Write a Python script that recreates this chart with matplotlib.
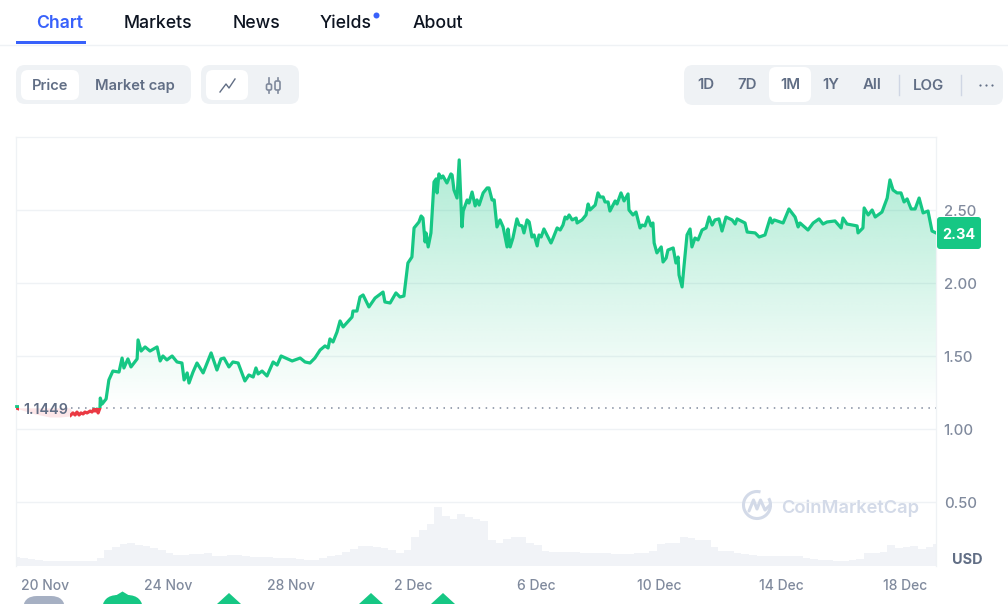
import numpy as np
import matplotlib
matplotlib.use("Agg")
import matplotlib.pyplot as plt
from matplotlib.patches import FancyBboxPatch, Rectangle, Polygon, Circle, Arc
from matplotlib.transforms import ScaledTranslation

plt.rcParams['font.family'] = ['Inter', 'DejaVu Sans']

# ---------- data ----------
days = [-0.94,-0.65,-0.33,0.16,0.49,0.81,0.91,0.98,1.04,1.11,1.17,1.24,1.30,1.37,1.47,1.53,1.60,1.63,1.69,1.73,1.79,1.80,1.86,1.99,2.08,2.21,2.41,2.51,2.57,2.70,2.80,3.00,3.03,3.13,3.26,3.42,3.65,3.75,3.84,3.97,4.14,4.30,4.46,4.53,4.63,4.69,4.82,4.95,5.15,5.41,5.60,5.73,5.83,5.99,6.12,6.29,6.51,6.64,6.78,6.87,6.94,7.07,7.23,7.43,7.56,7.69,8.05,8.31,8.47,8.63,8.79,8.96,9.12,9.22,9.28,9.38,9.51,9.61,9.71,10.00,10.03,10.16,10.26,10.36,10.55,10.75,11.01,11.07,11.24,11.43,11.56,11.69,11.82,11.95,12.02,12.18,12.25,12.31,12.38,12.41,12.48,12.57,12.67,12.74,12.77,12.83,12.90,12.96,13.09,13.22,13.26,13.32,13.42,13.49,13.58,13.62,13.75,13.81,13.91,14.01,14.07,14.14,14.27,14.40,14.46,14.56,14.63,14.72,14.82,14.92,15.05,15.08,15.15,15.24,15.37,15.44,15.54,15.60,15.70,15.77,15.86,15.93,16.03,16.09,16.16,16.25,16.48,16.55,16.68,16.78,16.87,16.94,17.00,17.07,17.17,17.30,17.33,17.49,17.62,17.69,17.75,17.92,18.01,18.08,18.18,18.24,18.34,18.40,18.57,18.63,18.76,18.86,18.99,19.02,19.15,19.25,19.38,19.45,19.54,19.64,19.74,19.80,19.84,19.93,20.07,20.13,20.23,20.29,20.46,20.55,20.62,20.65,20.75,20.81,20.91,21.01,21.07,21.17,21.27,21.40,21.53,21.63,21.73,21.82,21.95,22.05,22.18,22.38,22.48,22.54,22.80,22.87,23.13,23.26,23.45,23.62,23.68,23.75,24.04,24.23,24.43,24.53,24.59,24.85,25.02,25.21,25.34,25.47,25.73,25.93,25.99,26.12,26.45,26.48,26.64,26.68,26.81,26.94,27.04,27.26,27.43,27.52,27.62,27.75,27.88,27.98,28.08,28.21,28.34,28.47,28.60,28.76,28.89,29.02]
price = [1.144,1.123,1.103,1.082,1.082,1.089,1.110,1.096,1.116,1.096,1.110,1.103,1.116,1.110,1.123,1.116,1.137,1.123,1.137,1.110,1.144,1.212,1.171,1.206,1.336,1.397,1.390,1.486,1.418,1.480,1.425,1.480,1.610,1.534,1.562,1.534,1.562,1.466,1.500,1.473,1.500,1.459,1.452,1.336,1.384,1.315,1.390,1.452,1.384,1.521,1.404,1.480,1.486,1.425,1.459,1.452,1.329,1.370,1.356,1.418,1.377,1.397,1.363,1.459,1.438,1.500,1.466,1.486,1.459,1.452,1.486,1.541,1.569,1.555,1.617,1.596,1.664,1.740,1.699,1.767,1.808,1.808,1.904,1.918,1.836,1.897,1.938,1.870,1.863,1.932,1.904,1.911,2.137,2.178,2.377,2.418,2.459,2.445,2.281,2.343,2.247,2.343,2.692,2.713,2.617,2.747,2.719,2.733,2.685,2.747,2.740,2.637,2.582,2.843,2.384,2.493,2.569,2.548,2.623,2.528,2.569,2.534,2.617,2.651,2.651,2.569,2.569,2.384,2.432,2.384,2.247,2.370,2.247,2.308,2.439,2.397,2.391,2.343,2.432,2.418,2.315,2.329,2.254,2.329,2.315,2.370,2.274,2.308,2.377,2.363,2.397,2.452,2.439,2.466,2.432,2.445,2.411,2.432,2.466,2.541,2.500,2.534,2.617,2.589,2.589,2.555,2.555,2.493,2.562,2.541,2.617,2.562,2.610,2.500,2.466,2.486,2.377,2.397,2.391,2.452,2.391,2.411,2.274,2.206,2.247,2.144,2.171,2.226,2.240,2.137,2.178,2.055,1.973,2.110,2.329,2.370,2.247,2.308,2.295,2.363,2.377,2.452,2.397,2.432,2.439,2.356,2.452,2.432,2.404,2.439,2.411,2.349,2.343,2.315,2.329,2.445,2.411,2.432,2.411,2.507,2.452,2.384,2.411,2.363,2.411,2.439,2.404,2.418,2.425,2.377,2.445,2.404,2.391,2.343,2.377,2.514,2.466,2.500,2.452,2.486,2.582,2.706,2.637,2.617,2.617,2.555,2.576,2.507,2.507,2.582,2.480,2.493,2.356,2.343]
volume = [9,8,7,6,5,5,5,5,5,5,5,8,16,19,22,23,21,20,18,16,13,11,11,12,12,13,10,10,11,11,10,9,9,9,8,8,8,7,6,6,8,10,11,14,17,20,20,19,18,16,13,16,29,36,42,59,50,47,52,49,47,45,26,23,27,29,29,23,21,15,14,14,14,14,13,13,13,13,12,12,12,13,13,15,22,23,23,29,28,26,26,19,15,15,13,12,11,10,10,10,10,10,10,8,7,6,6,5,5,6,7,13,13,14,21,18,19,20,17,19,22]
tick_days = [0, 4, 8, 12, 16, 20, 24, 28]
tick_labels = ['20 Nov', '24 Nov', '28 Nov', '2 Dec', '6 Dec', '10 Dec', '14 Dec', '18 Dec']
y_ticks = [0.5, 1.0, 1.5, 2.0, 2.5]
baseline = 1.1449
last_price = '2.34'
nav_tabs = ['Chart', 'Markets', 'News', 'Yields', 'About']
ranges = ['1D', '7D', '1M', '1Y', 'All']

GREEN = '#16C784'; RED = '#EA3943'; BLUE = '#3861FB'
PALE = '#EFF2F5'; GREY = '#808A9D'; SLATE = '#616E85'; DARK = '#0D1421'

W, H = 1008, 604
fig = plt.figure(figsize=(W/100, H/100), dpi=100, facecolor='white')
rect = [16/W, (H-566)/H, 920/W, 429/H]
xlim = (-0.945, 29.02)

# ---------- volume ----------
axv = fig.add_axes(rect, zorder=0)
axv.bar(-0.945 + 0.25*np.arange(len(volume)), volume, width=0.25, color='#F1F3F7', linewidth=0)
axv.set_xlim(*xlim); axv.set_ylim(0, 429); axv.axis('off')

# ---------- price ----------
ax = fig.add_axes(rect, zorder=1)
ax.patch.set_alpha(0)
ax.set_xlim(*xlim); ax.set_ylim(0.0616, 3.0)
d = np.array(days); p = np.array(price)

for s in ['left', 'top', 'right']:
    ax.spines[s].set_color(PALE); ax.spines[s].set_linewidth(0.9)
ax.spines['bottom'].set_visible(False)
ax.grid(False)
for v in y_ticks:
    ax.axhline(v, color=PALE, lw=1, zorder=1)

# gradient fill above the baseline
grad = np.zeros((256, 2, 4))
grad[..., :3] = matplotlib.colors.to_rgb(GREEN)
grad[..., 3] = np.linspace(0.34, 0.0, 256)[:, None]
top = p.max()
im = ax.imshow(grad, extent=(xlim[0], xlim[1], baseline, top), aspect='auto', zorder=2, interpolation='bilinear')
ax.set_xlim(*xlim); ax.set_ylim(0.0616, 3.0)
poly = Polygon(np.vstack([[d[0], baseline], np.column_stack([d, p]), [d[-1], baseline]]),
               closed=True, transform=ax.transData, fc='none', ec='none')
ax.add_patch(poly)
im.set_clip_path(poly)

clip_up = Rectangle((xlim[0], baseline), xlim[1]-xlim[0], 3, transform=ax.transData)
clip_dn = Rectangle((xlim[0], 0), xlim[1]-xlim[0], baseline, transform=ax.transData)
l1, = ax.plot(d, p, color=GREEN, lw=2.3, zorder=4, solid_joinstyle='round')
l1.set_clip_path(clip_up)
l2, = ax.plot(d, p, color=RED, lw=2.3, zorder=4, solid_joinstyle='round')
l2.set_clip_path(clip_dn)
ax.plot([xlim[0], xlim[0]+0.12], [baseline+0.01, baseline+0.01], color=GREEN, lw=2, zorder=4, clip_on=False)

# label backing, pink area, label
ax.add_patch(Rectangle((-0.85, 1.06), 1.66, 0.14, fc='white', ec='none', zorder=5))
ax.fill_between(d, p, baseline, where=(p < baseline) & (d < 0.85), color=RED, alpha=0.12, lw=0, zorder=6, interpolate=True)
ax.plot([0.85, xlim[1]], [baseline, baseline], color=GREY, lw=1.1, dashes=(1, 3.6), zorder=3)
ax.text(-0.72, baseline-0.017, f'{baseline:.4f}', color=SLATE, fontsize=10.3, fontweight='semibold', va='center', ha='left', zorder=7)

ax.yaxis.tick_right()
ax.set_yticks(y_ticks)
ax.set_yticklabels([f'{v:.2f}' for v in y_ticks], color=GREY, fontsize=10.7, fontweight='medium')
ax.set_xticks(tick_days)
ax.set_xticklabels(tick_labels, color=GREY, fontsize=10.0, fontweight='medium')
ax.tick_params(axis='both', length=0)
ax.tick_params(axis='y', pad=5.5)
ax.tick_params(axis='x', pad=9.5)
down = ScaledTranslation(0, -1/100, fig.dpi_scale_trans)
for lb in ax.get_yticklabels():
    lb.set_transform(lb.get_transform() + down)

# ---------- page furniture, in pixel coordinates ----------
ov = fig.add_axes([0, 0, 1, 1], zorder=10)
ov.set_xlim(0, W); ov.set_ylim(H, 0); ov.axis('off'); ov.patch.set_alpha(0)

def pill(x0, y0, x1, y1, r, c, z=1):
    ov.add_patch(FancyBboxPatch((x0, y0), x1-x0, y1-y0, boxstyle=f'round,pad=0,rounding_size={r}',
                                fc=c, ec='none', zorder=z))

# tabs
ov.plot([0, W], [44.5, 44.5], color=PALE, lw=1)
ov.add_patch(Rectangle((16, 41), 70, 3, fc=BLUE, ec='none'))
for lab, x in zip(nav_tabs, [60, 158, 257, 346, 438]):
    ov.text(x, 24, lab, ha='center', va='center', fontsize=12.7, fontweight='medium' if lab != 'Chart' else 'semibold',
            color=BLUE if lab == 'Chart' else DARK)
ov.add_patch(Circle((376.5, 15.5), 3, fc=BLUE, ec='none'))

# toggles
pill(16, 65, 191, 104, 9, PALE)
pill(21, 70, 79, 100, 7, 'white', 2)
ov.text(50, 86, 'Price', ha='center', va='center', fontsize=10.6, fontweight='semibold', color=SLATE, zorder=3)
ov.text(135, 86, 'Market cap', ha='center', va='center', fontsize=10.6, fontweight='semibold', color=SLATE, zorder=3)
pill(201, 65, 299, 104, 9, PALE)
pill(206, 70, 248, 100, 7, 'white', 2)
ov.plot([220, 226, 229, 235], [92, 84, 88, 79], color=SLATE, lw=1.0, zorder=3)
for cx, y0, y1, b0, b1 in [(269, 78, 93, 84, 90), (277.5, 78, 93, 81, 90)]:
    ov.plot([cx, cx], [y0, y1], color=GREY, lw=1.2, zorder=3)
    ov.add_patch(FancyBboxPatch((cx-2.5, b0), 5, b1-b0, boxstyle='round,pad=0,rounding_size=1.5',
                                fc=PALE, ec=GREY, lw=1.2, zorder=4))

pill(684, 65, 1003, 105, 9, PALE)
pill(769, 67, 811, 102, 7, 'white', 2)
for lab, x in zip(ranges, [706, 747, 790, 831, 872]):
    ov.text(x, 85, lab, ha='center', va='center', fontsize=10.8, fontweight='semibold', color=SLATE, zorder=3)
ov.text(929, 86, 'LOG', ha='center', va='center', fontsize=10.8, fontweight='semibold', color=SLATE, zorder=3)
ov.plot([898.5, 898.5], [75, 95], color='#CFD6E4', lw=1, zorder=3)
ov.plot([960.5, 960.5], [75, 95], color='#CFD6E4', lw=1, zorder=3)
ov.scatter([980, 986, 992], [85, 85, 85], s=2.5, color=SLATE, lw=0, zorder=3)

# current price tag and unit
pill(937, 217, 981, 249, 3, GREEN)
ov.text(958.5, 235, last_price, ha='center', va='center', fontsize=10.4, fontweight='bold', color='white', zorder=3)
ov.text(967, 560.5, 'USD', ha='center', va='center', fontsize=10.4, fontweight='bold', color=SLATE)

# watermark
WM = '#D3DAE8'
ov.add_patch(Arc((757, 505), 27, 27, theta1=-30, theta2=285, color=WM, lw=2.2))
ov.plot([749, 753.5, 757, 760.5, 765, 770], [511, 500, 509, 500, 510, 505], color=WM, lw=2.2, solid_capstyle='round')
ov.text(781, 508.5, 'CoinMarketCap', ha='left', va='center', fontsize=13.2, fontweight='semibold', color=WM)

# event markers cut off by the bottom edge
pill(23, 596, 65, 630, 14, '#A6B0C3')
pill(102, 595, 143, 630, 16, GREEN)
ov.add_patch(Polygon([[115, 596], [122.5, 591.5], [130, 596]], fc=GREEN, ec='none'))
for cx in [229, 371, 443]:
    ov.add_patch(Polygon([[cx-12, 604], [cx, 593], [cx+12, 604]], fc=GREEN, ec='none'))

fig.savefig('out.png', dpi=100, facecolor='white')
